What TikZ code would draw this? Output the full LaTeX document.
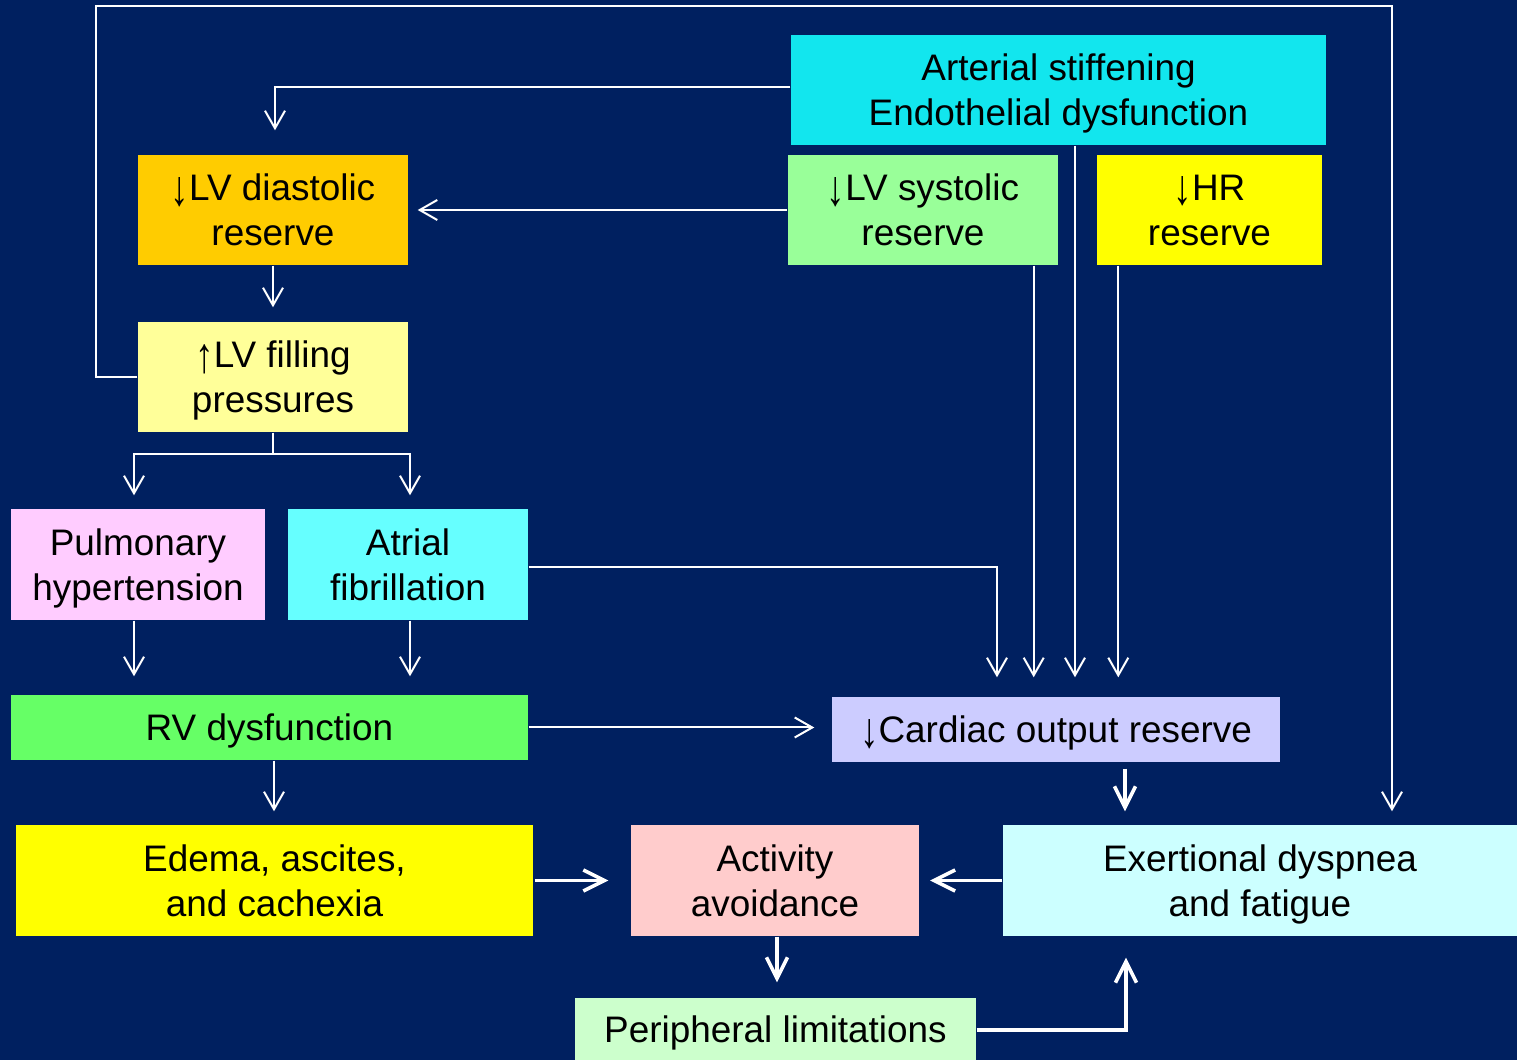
\documentclass[tikz,border=0pt]{standalone}
\usepackage{fontspec}
\usepackage{graphicx}
\setmainfont{Liberation Sans}
\usetikzlibrary{arrows.meta}

\definecolor{navy}{HTML}{002060}
\definecolor{artc}{HTML}{12E6EE}
\definecolor{diac}{HTML}{FFCC00}
\definecolor{sysc}{HTML}{99FF99}
\definecolor{hrc}{HTML}{FFFF00}
\definecolor{fillc}{HTML}{FFFF99}
\definecolor{pulc}{HTML}{FFCCFF}
\definecolor{afc}{HTML}{66FFFF}
\definecolor{rvc}{HTML}{66FF66}
\definecolor{coc}{HTML}{CCCCFF}
\definecolor{edec}{HTML}{FFFF00}
\definecolor{actc}{HTML}{FFCCCC}
\definecolor{dysc}{HTML}{CCFFFF}
\definecolor{perc}{HTML}{CCFFCC}

% tall arrows in the labels
\newcommand{\dnarr}{\raisebox{-0.12em}{\scalebox{1}[1.35]{↓}}}
\newcommand{\uparr}{\raisebox{-0.12em}{\scalebox{1}[1.35]{↑}}}

\begin{document}
\begin{tikzpicture}[
	box/.style={inner sep=0pt, align=center, text=black, text depth=0pt,
		font=\fontsize{10.5}{12.8}\selectfont},
	arr/.style={draw=white, line width=0.57pt,
		-{Straight Barb[length=5pt,width=5.7pt]}},
	arrt/.style={draw=white, line width=1pt,
		-{Straight Barb[length=6pt,width=6pt]}}
	]
		% background
		\fill[navy] (0,0) rectangle (15.17,-10.60);
		% boxes
		\node[box, fill=artc, minimum width=5.35cm, minimum height=1.10cm] (art) at (10.585,-0.90) {Arterial stiffening\\Endothelial dysfunction};
		\node[box, fill=diac, minimum width=2.70cm, minimum height=1.10cm] (dia) at (2.73,-2.10) {\dnarr LV diastolic\\reserve};
		\node[box, fill=sysc, minimum width=2.70cm, minimum height=1.10cm] (sys) at (9.23,-2.10) {\dnarr LV systolic\\reserve};
		\node[box, fill=hrc, minimum width=2.25cm, minimum height=1.10cm] (hr) at (12.095,-2.10) {\dnarr HR\\reserve};
		\node[box, fill=fillc, minimum width=2.70cm, minimum height=1.10cm] (fill) at (2.73,-3.77) {\uparr LV filling\\pressures};
		\node[box, fill=pulc, minimum width=2.54cm, minimum height=1.11cm] (pul) at (1.38,-5.645) {Pulmonary\\hypertension};
		\node[box, fill=afc, minimum width=2.40cm, minimum height=1.11cm] (af) at (4.08,-5.645) {Atrial\\fibrillation};
		\node[box, fill=rvc, minimum width=5.17cm, minimum height=0.65cm] (rv) at (2.695,-7.275) {RV dysfunction};
		\node[box, fill=coc, minimum width=4.48cm, minimum height=0.65cm] (co) at (10.56,-7.295) {\dnarr Cardiac output reserve};
		\node[box, fill=edec, minimum width=5.17cm, minimum height=1.11cm] (ede) at (2.745,-8.805) {Edema, ascites,\\and cachexia};
		\node[box, fill=actc, minimum width=2.88cm, minimum height=1.11cm] (act) at (7.75,-8.805) {Activity\\avoidance};
		\node[box, fill=dysc, minimum width=5.14cm, minimum height=1.11cm] (dys) at (12.60,-8.805) {Exertional dyspnea\\and fatigue};
		\node[box, fill=perc, minimum width=4.01cm, minimum height=0.62cm] (per) at (7.755,-10.29) {Peripheral limitations};
		% thin arrows
		\draw[arr, shorten >=0.24cm] ([yshift=0.03cm]art.west) -| ([xshift=0.02cm]dia.north);
		\draw[arr, shorten >=0.09cm] (sys.west) -- (dia.east);
		\draw[arr, shorten >=0.14cm] (dia.south) -- (fill.north);
		\draw[arr, shorten >=0.13cm] (fill.west) -| (0.96,-0.06) -| ([xshift=1.32cm]dys.north);
		\draw[white, line width=0.57pt] (fill.south) -- ++(0,-0.21) coordinate (split);
		\draw[arr, shorten >=0.13cm] (split) -| ([xshift=-0.04cm]pul.north);
		\draw[arr, shorten >=0.13cm] (split) -| ([xshift=0.02cm]af.north);
		\draw[arr, shorten >=0.18cm] ([xshift=-0.04cm]pul.south) -- ([xshift=-0.04cm]pul.south |- rv.north);
		\draw[arr, shorten >=0.18cm] ([xshift=0.02cm]af.south) -- ([xshift=0.02cm]af.south |- rv.north);
		\draw[arr, shorten >=0.19cm] ([yshift=-0.025cm]af.east) -| ([xshift=-0.59cm]co.north);
		\draw[arr, shorten >=0.19cm] ([xshift=-0.25cm]sys.south east) coordinate (s1) -- (s1 |- co.north);
		\draw[arr, shorten >=0.19cm] ([xshift=0.165cm]art.south) coordinate (s2) -- (s2 |- co.north);
		\draw[arr, shorten >=0.19cm] ([xshift=0.22cm]hr.south west) coordinate (s3) -- (s3 |- co.north);
		\draw[arr, shorten >=0.17cm] (rv.east) -- (rv.east -| co.west);
		\draw[arr, shorten >=0.13cm] ([xshift=0.045cm]rv.south) -- ([xshift=0.045cm]rv.south |- ede.north);
		% thick arrows
		\draw[arrt, shorten <=0.06cm, shorten >=0.13cm] ([xshift=0.69cm]co.south) coordinate (s4) -- (s4 |- dys.north);
		\draw[arrt, shorten <=0.01cm, shorten >=0.22cm] (ede.east) -- (act.west);
		\draw[arrt, shorten >=0.105cm] (dys.west) -- (act.east);
		\draw[arrt, shorten >=0.15cm] ([xshift=0.02cm]act.south) -- ([xshift=0.02cm]act.south |- per.north);
		\draw[arrt, shorten >=0.21cm] ([yshift=-0.01cm]per.east) -| ([xshift=-1.34cm]dys.south);
	\end{tikzpicture}
\end{document}
